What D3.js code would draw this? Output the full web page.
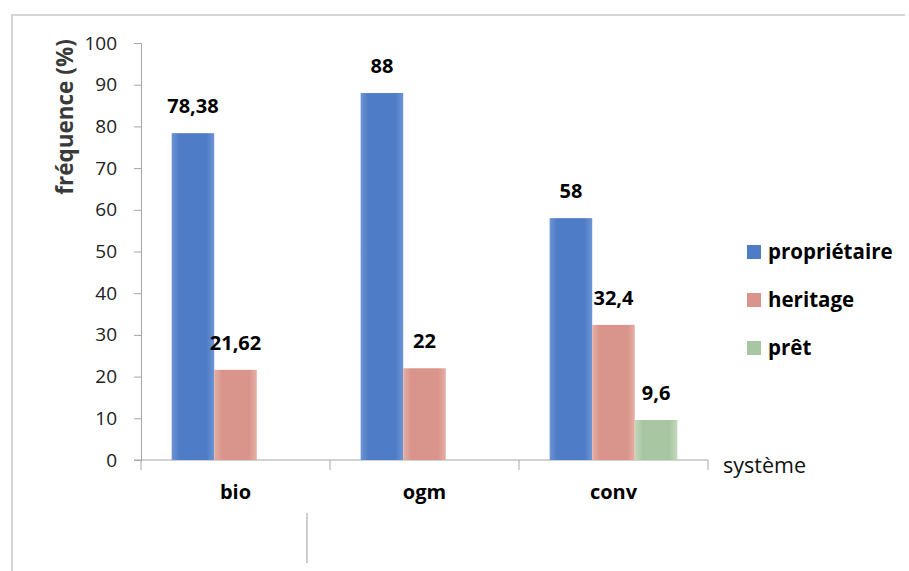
<!DOCTYPE html>
<head>
  <meta charset="utf-8">
  <style>
    body { margin:0; background:#fff; }
    text { font-family:"Open Sans", sans-serif; fill:#000; }
    .tick text { font-size:19px; fill:#222; }
    .val { font-size:20px; font-weight:bold; }
    .cat { font-size:20px; font-weight:bold; }
    .leg { font-size:20.5px; font-weight:bold; }
  </style>
</head>
<body>
  <script src="https://d3js.org/d3.v7.min.js"></script>
  <script>

    // DATA
    var categories = ["bio", "ogm", "conv"];
    var series = ["propriétaire", "heritage", "prêt"];
    var proprietaire = [78.38, 88, 58];
    var heritage = [21.62, 22, 32.4];
    var pret = [null, null, 9.6];
    var yTicks = [0, 10, 20, 30, 40, 50, 60, 70, 80, 90, 100];

    var values = [proprietaire, heritage, pret];
    var colors = ["#4f7cc6", "#d9958b", "#a9c6a3"];
    var edges = ["#6d95d6", "#e6aea5", "#c3d8bd"];

    // DIMENSIONS
    var width = 909, height = 571;
    var x0 = 141, x1 = 708, yTop = 43, yBase = 460;

    var svg = d3.select("body").append("svg")
      .attr("width", width)
      .attr("height", height);

    // gradients for the bars
    var defs = svg.append("defs");
    colors.forEach(function(c, i) {
      var g = defs.append("linearGradient").attr("id", "grad" + i)
        .attr("x1", "0%").attr("x2", "100%").attr("y1", "0%").attr("y2", "0%");
      g.append("stop").attr("offset", "0%").attr("stop-color", edges[i]);
      g.append("stop").attr("offset", "18%").attr("stop-color", c);
      g.append("stop").attr("offset", "82%").attr("stop-color", c);
      g.append("stop").attr("offset", "100%").attr("stop-color", edges[i]);
    });

    // frame
    svg.append("path")
      .attr("d", "M12,571V15H905")
      .attr("fill", "none")
      .attr("stroke", "#d6d6d6")
      .attr("stroke-width", 2);

    // stray mark from the scan
    svg.append("line")
      .attr("x1", 307).attr("x2", 307).attr("y1", 513).attr("y2", 563)
      .attr("stroke", "#9a9a9a").attr("stroke-width", 1);

    // SCALES
    var x = d3.scaleBand().domain(categories).range([x0, x1]);
    var xs = d3.scaleBand().domain(series).range([0, x.bandwidth()]).paddingOuter(0.72);
    var y = d3.scaleLinear().domain([0, 100]).range([yBase, yTop]);

    // Y AXIS
    var yAxis = svg.append("g")
      .attr("transform", "translate(" + x0 + ",0)")
      .call(d3.axisLeft(y).tickValues(yTicks).tickSize(7).tickPadding(17));
    yAxis.selectAll("line, path").attr("stroke", "#a6a6a6");

    // X AXIS
    var xAxis = svg.append("g")
      .attr("transform", "translate(0," + yBase + ")");
    xAxis.append("line")
      .attr("x1", x0 - 7).attr("x2", x1)
      .attr("stroke", "#a6a6a6");
    xAxis.selectAll("line.tk")
      .data(categories.concat(["end"]))
      .enter().append("line")
        .attr("class", "tk")
        .attr("x1", function(d, i) { return i < categories.length ? x(d) : x1; })
        .attr("x2", function(d, i) { return i < categories.length ? x(d) : x1; })
        .attr("y1", 0).attr("y2", 10)
        .attr("stroke", "#a6a6a6");
    xAxis.selectAll("text.cat")
      .data(categories)
      .enter().append("text")
        .attr("class", "cat")
        .attr("x", function(d) { return x(d) + x.bandwidth() / 2; })
        .attr("y", 39)
        .attr("text-anchor", "middle")
        .text(function(d) { return d; });

    // BARS
    series.forEach(function(s, si) {
      var rows = categories.map(function(c, ci) { return { cat: c, v: values[si][ci] }; })
        .filter(function(d) { return d.v != null; });

      svg.selectAll("rect.s" + si)
        .data(rows)
        .enter().append("rect")
          .attr("class", "s" + si)
          .attr("x", function(d) { return x(d.cat) + xs(s); })
          .attr("width", xs.bandwidth())
          .attr("y", function(d) { return y(d.v); })
          .attr("height", function(d) { return yBase - y(d.v); })
          .attr("fill", "url(#grad" + si + ")");

      svg.selectAll("text.v" + si)
        .data(rows)
        .enter().append("text")
          .attr("class", "val v" + si)
          .attr("x", function(d) { return x(d.cat) + xs(s) + xs.bandwidth() / 2; })
          .attr("y", function(d) { return y(d.v) - 20; })
          .attr("text-anchor", "middle")
          .text(function(d) { return String(d.v).replace(".", ","); });
    });

    // AXIS TITLES
    svg.append("text")
      .attr("transform", "translate(73,117) rotate(-90)")
      .attr("text-anchor", "middle")
      .style("font-size", "22.5px")
      .style("font-weight", "bold")
      .style("fill", "#3a3a3a")
      .text("fréquence (%)");

    svg.append("text")
      .attr("x", 723).attr("y", 473)
      .style("font-size", "21.5px")
      .style("fill", "#111")
      .text("système");

    // LEGEND
    var legend = svg.selectAll("g.legend")
      .data(series)
      .enter().append("g")
        .attr("class", "legend")
        .attr("transform", function(d, i) { return "translate(747," + (252 + i * 48) + ")"; });
    legend.append("rect")
      .attr("x", 0).attr("y", -7).attr("width", 14).attr("height", 14)
      .attr("fill", function(d, i) { return colors[i]; });
    legend.append("text")
      .attr("class", "leg")
      .attr("x", 21).attr("y", 7)
      .text(function(d) { return d; });

  </script>
</body>
